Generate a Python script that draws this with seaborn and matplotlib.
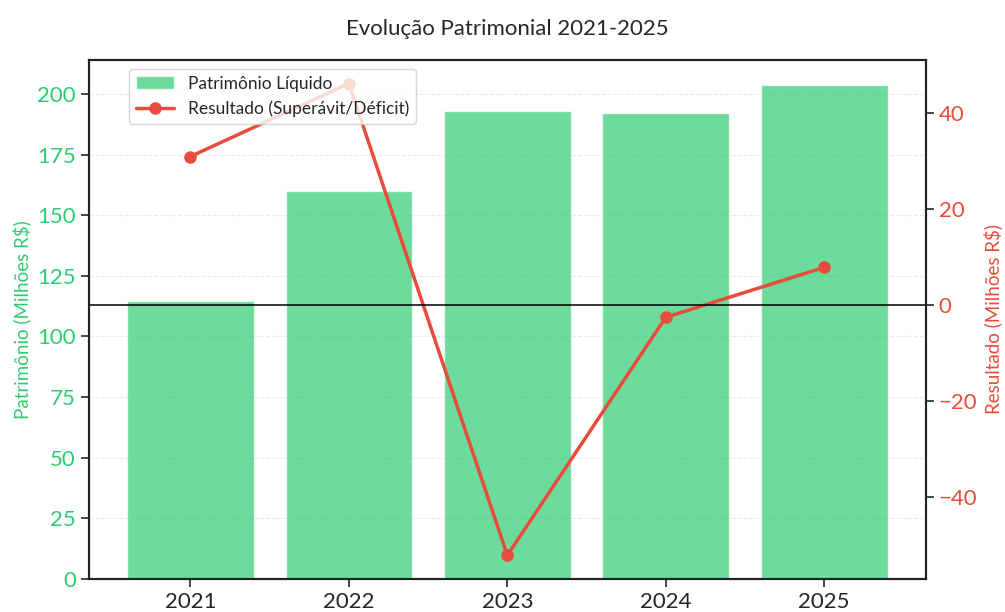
import matplotlib
matplotlib.use("Agg")
import matplotlib.pyplot as plt
import seaborn as sns

# values
anos = ["2021", "2022", "2023", "2024", "2025"]
patrimonio = [114.5, 160.0, 193.0, 192.2, 203.8]
resultado = [31.0, 46.2, -52.1, -2.5, 7.9]

verde = "#2ecc71"
vermelho = "#e74c3c"

sns.set_style("ticks")
plt.rcParams["font.family"] = ["Lato", "DejaVu Sans"]

fig, ax1 = plt.subplots(figsize=(10.05, 6.12), dpi=100)
fig.subplots_adjust(left=0.0886, right=0.921, bottom=0.054, top=0.902)

sns.barplot(x=anos, y=patrimonio, color=verde, alpha=0.7, saturation=1,
            width=0.8, ax=ax1, label="Patrimônio Líquido")
if ax1.get_legend() is not None:
    ax1.get_legend().remove()
ax1.set_ylabel("Patrimônio (Milhões R$)", color=verde, fontsize=13.5)
ax1.set_xlabel("")
ax1.tick_params(axis="y", labelcolor=verde, labelsize=16, length=6, width=1.2)
ax1.tick_params(axis="x", labelsize=16, length=6, width=1.2)
ax1.grid(axis="y", linestyle="--", alpha=0.4)

ax2 = ax1.twinx()
ax2.plot(anos, resultado, color=vermelho, marker="o", linewidth=2.5,
         markersize=8, label="Resultado (Superávit/Déficit)")
ax2.axhline(0, color="black", linewidth=1.3, alpha=0.85)
ax2.set_ylabel("Resultado (Milhões R$)", color=vermelho, fontsize=13.5)
ax2.tick_params(axis="y", labelcolor=vermelho, labelsize=16, length=6, width=1.2)

for ax in (ax1, ax2):
    for s in ax.spines.values():
        s.set_visible(True)
        s.set_linewidth(1.5)
        s.set_color("#222222")

h1, l1 = ax1.get_legend_handles_labels()
h2, l2 = ax2.get_legend_handles_labels()
ax2.legend(h1 + h2, l1 + l2, loc="upper left", bbox_to_anchor=(0.037, 1.0),
           fontsize=12.5, framealpha=0.8, handlelength=2.2)

ax1.set_title("Evolução Patrimonial 2021-2025", fontsize=16, pad=18)

fig.savefig("out.png", dpi=100)
